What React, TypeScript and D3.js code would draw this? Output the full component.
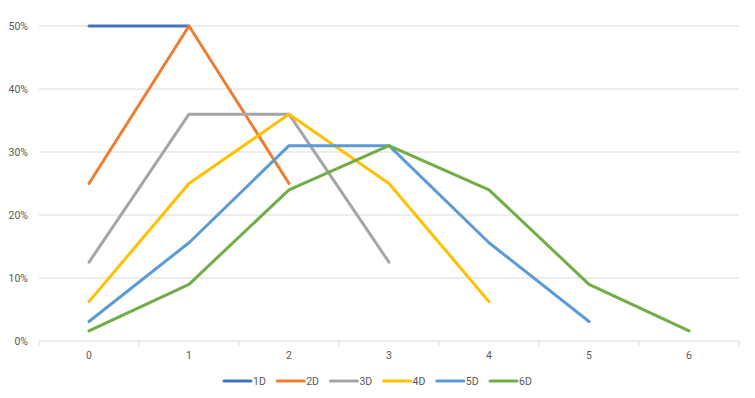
import React from "react";
import * as d3 from "d3";

const categories = ["0", "1", "2", "3", "4", "5", "6"];
const seriesNames = ["1D", "2D", "3D", "4D", "5D", "6D"];
const seriesColors = ["#4472C4", "#ED7D31", "#A5A5A5", "#FFC000", "#5B9BD5", "#70AD47"];

// percent values
const d1 = [50, 50];
const d2 = [25, 50, 25];
const d3s = [12.5, 36, 36, 12.5];
const d4 = [6.25, 25, 36, 25, 6.25];
const d5 = [3.1, 15.6, 31, 31, 15.6, 3.1];
const d6 = [1.6, 9, 24, 31, 24, 9, 1.6];
const seriesValues = [d1, d2, d3s, d4, d5, d6];

const yTicks = [0, 10, 20, 30, 40, 50];

export default function App() {
  const width = 755;
  const height = 398;
  const margin = { left: 39, right: 16, top: 26, bottom: 57 };

  const x = d3
    .scaleBand<string>()
    .domain(categories)
    .range([margin.left, width - margin.right])
    .padding(0);
  const y = d3
    .scaleLinear()
    .domain([0, 50])
    .range([height - margin.bottom, margin.top]);

  const line = d3
    .line<number>()
    .x((_, i) => (x(categories[i]) as number) + x.bandwidth() / 2)
    .y((v) => y(v));

  const font = "Roboto, 'Open Sans', sans-serif";
  const textColor = "#595959";

  const legendStart = 224;
  const legendStep = 53.2;
  const legendY = 381;

  return (
    <svg
      width={width}
      height={height}
      style={{ position: "absolute", left: 0, top: 0, background: "#fff" }}
      fontFamily={font}
    >
      {/* gridlines + y labels */}
      {yTicks.map((t) => (
        <g key={t}>
          {t > 0 && (
            <line
              x1={margin.left}
              x2={width - margin.right}
              y1={y(t)}
              y2={y(t)}
              stroke="#d9d9d9"
              strokeWidth={1}
            />
          )}
          <text
            x={28}
            y={y(t)}
            dy="0.35em"
            textAnchor="end"
            fontSize={10.5}
            fill={textColor}
          >
            {t}%
          </text>
        </g>
      ))}

      {/* x axis */}
      <line
        x1={margin.left}
        x2={width - margin.right}
        y1={y(0)}
        y2={y(0)}
        stroke="#d9d9d9"
        strokeWidth={1}
      />
      {categories.concat([""]).map((c, i) => {
        const xp = margin.left + i * x.bandwidth();
        return (
          <line key={"t" + i} x1={xp} x2={xp} y1={y(0)} y2={y(0) + 5} stroke="#d9d9d9" />
        );
      })}
      {categories.map((c) => (
        <text
          key={c}
          x={(x(c) as number) + x.bandwidth() / 2}
          y={y(0) + 18}
          textAnchor="middle"
          fontSize={10.5}
          fill={textColor}
        >
          {c}
        </text>
      ))}

      {/* series */}
      {seriesValues.map((vals, i) => (
        <path
          key={seriesNames[i]}
          d={line(vals) || ""}
          fill="none"
          stroke={seriesColors[i]}
          strokeWidth={3}
          strokeLinejoin="round"
          strokeLinecap="round"
        />
      ))}

      {/* legend */}
      {seriesNames.map((n, i) => {
        const lx = legendStart + i * legendStep;
        return (
          <g key={"lg" + n}>
            <line
              x1={lx}
              x2={lx + 27}
              y1={legendY}
              y2={legendY}
              stroke={seriesColors[i]}
              strokeWidth={3}
              strokeLinecap="round"
            />
            <text x={lx + 29} y={legendY} dy="0.35em" fontSize={10.5} fill={textColor}>
              {n}
            </text>
          </g>
        );
      })}
    </svg>
  );
}
